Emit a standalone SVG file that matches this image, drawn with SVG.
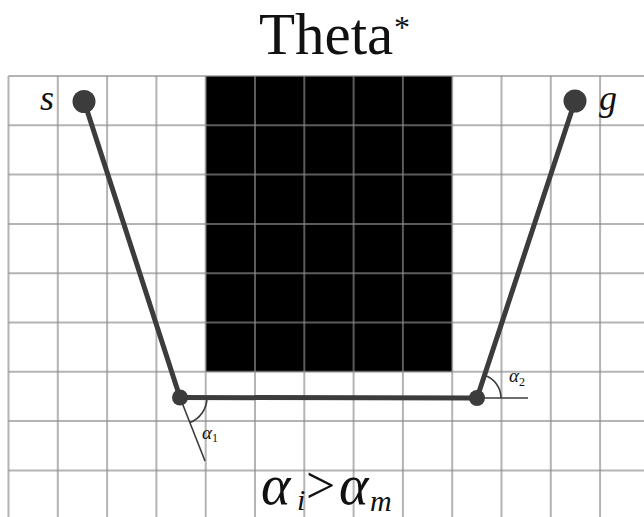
<svg xmlns="http://www.w3.org/2000/svg" width="644" height="517" viewBox="0 0 644 517">
<style>
.grid line{stroke:#8c8c8c;stroke-opacity:0.65;stroke-width:2}
.path{stroke:#3c3c3c;stroke-width:5;fill:none;stroke-linecap:round}
.thin{stroke:#3c3c3c;stroke-width:1.6;fill:none}
.dot{fill:#3c3c3c}
.serif{font-family:"Liberation Serif","Times New Roman",serif;fill:#111}
.it{font-style:italic}
</style>
<rect width="644" height="517" fill="#fff"/>
<text class="serif" x="259" y="54" font-size="59">Theta</text>
<text class="serif" x="394" y="38" font-size="32">*</text>
<rect id="obstacle" x="205.7" y="76" width="246.5" height="295.8" fill="#000"/>
<g class="grid" id="grid">
<line x1="8.5" y1="76" x2="644" y2="76"/>
<line x1="8.5" y1="125.3" x2="644" y2="125.3"/>
<line x1="8.5" y1="174.6" x2="644" y2="174.6"/>
<line x1="8.5" y1="223.9" x2="644" y2="223.9"/>
<line x1="8.5" y1="273.2" x2="644" y2="273.2"/>
<line x1="8.5" y1="322.5" x2="644" y2="322.5"/>
<line x1="8.5" y1="371.8" x2="644" y2="371.8"/>
<line x1="8.5" y1="421.1" x2="644" y2="421.1"/>
<line x1="8.5" y1="470.4" x2="644" y2="470.4"/>
<line x1="8.5" y1="76" x2="8.5" y2="517"/>
<line x1="57.8" y1="76" x2="57.8" y2="517"/>
<line x1="107.1" y1="76" x2="107.1" y2="517"/>
<line x1="156.4" y1="76" x2="156.4" y2="517"/>
<line x1="205.7" y1="76" x2="205.7" y2="517"/>
<line x1="255" y1="76" x2="255" y2="517"/>
<line x1="304.3" y1="76" x2="304.3" y2="517"/>
<line x1="353.6" y1="76" x2="353.6" y2="517"/>
<line x1="402.9" y1="76" x2="402.9" y2="517"/>
<line x1="452.2" y1="76" x2="452.2" y2="517"/>
<line x1="501.5" y1="76" x2="501.5" y2="517"/>
<line x1="550.8" y1="76" x2="550.8" y2="517"/>
<line x1="600.1" y1="76" x2="600.1" y2="517"/>
</g>
<g id="connectors">
<line class="path" x1="84" y1="101" x2="180" y2="397.5"/>
<line class="path" x1="180" y1="397.5" x2="477" y2="398"/>
<line class="path" x1="477" y1="398" x2="575" y2="101"/>
<line class="thin" x1="180" y1="397.5" x2="205" y2="461"/>
<line class="thin" x1="477" y1="398" x2="528" y2="398"/>
<path class="thin" d="M207 397.5 A27 27 0 0 1 189.8 422.6"/>
<path class="thin" d="M501 398 A24 24 0 0 0 484.5 375.2"/>
</g>
<g id="node-s"><circle class="dot" cx="84" cy="101.5" r="11.5"/><text class="serif it" x="40" y="110" font-size="36">s</text></g>
<g id="node-g"><circle class="dot" cx="575" cy="101" r="11.5"/><text class="serif it" x="599" y="110" font-size="36">g</text></g>
<g id="node-p1"><circle class="dot" cx="180" cy="397.5" r="8"/><text class="serif it" x="202" y="439" font-size="19">α<tspan font-size="12" font-style="normal" dy="3">1</tspan></text></g>
<g id="node-p2"><circle class="dot" cx="477" cy="398" r="8"/><text class="serif it" x="509" y="382" font-size="19">α<tspan font-size="12" font-style="normal" dy="4">2</tspan></text></g>
<g id="condition">
<text class="serif it" x="261" y="504" font-size="56">α</text>
<text class="serif it" x="297" y="510" font-size="30">i</text>
<text class="serif" x="306" y="503" font-size="52">&gt;</text>
<text class="serif it" x="339" y="504" font-size="56">α</text>
<text class="serif it" x="370" y="511" font-size="30">m</text>
</g>
</svg>
